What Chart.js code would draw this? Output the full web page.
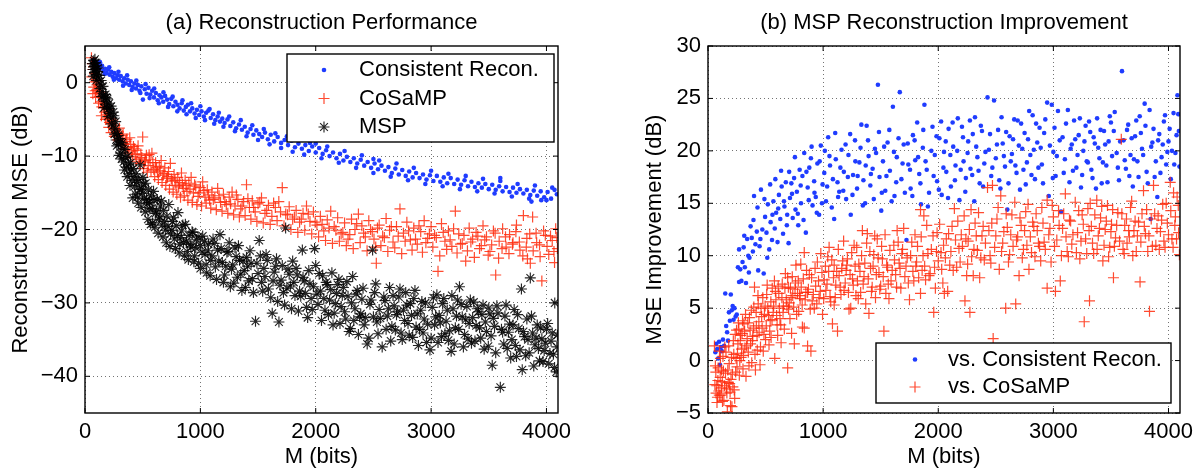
<!DOCTYPE html>
<html>
<head>
<meta charset="utf-8">
<script src="https://cdn.jsdelivr.net/npm/chart.js@4.4.1/dist/chart.umd.min.js"></script>
<style>
  body { margin: 0; background: #fff; width: 1196px; height: 468px; overflow: hidden; position: relative;
         font-family: "Liberation Sans", Arial, Helvetica, sans-serif; }
  .panel { position: absolute; top: 0; width: 598px; height: 468px; }
  .title { position: absolute; top: 9px; height: 26px; line-height: 26px; font-size: 22px; text-align: center; color: #000; white-space: nowrap; }
</style>
</head>
<body>
<div class="panel" style="left:0"><canvas id="left" width="598" height="468"></canvas></div>
<div class="panel" style="left:598px"><canvas id="right" width="598" height="468"></canvas></div>
<div class="title" style="left:85px;width:473px">(a) Reconstruction Performance</div>
<div class="title" style="left:708px;width:472px">(b) MSP Reconstruction Improvement</div>
<script>
// axis limits and ticks
const xRange = [0, 4100];
const xTicks = [0, 1000, 2000, 3000, 4000];
const leftYRange = [-45, 5];
const leftYTicks = [-40, -30, -20, -10, 0];
const rightYRange = [-5, 30];
const rightYTicks = [-5, 0, 5, 10, 15, 20, 25, 30];

const leftLabels = ['Consistent Recon.', 'CoSaMP', 'MSP'];
const rightLabels = ['vs. Consistent Recon.', 'vs. CoSaMP'];

// (a) reconstruction MSE in dB, [M, dB]
const leftConsistent = [[68,3.1],[76,2.5],[84,2.9],[92,2.2],[100,2.6],[110,1.9],[122,2.4],[134,2.0],[148,2.3],[160,1.6],[174,1.9],[188,1.3],[200,1.8],[214,1.1],[228,1.5],[240,0.8],[254,1.3],[268,0.6],[282,1.0],[296,0.4],[310,0.9],[326,0.2],[340,0.6],[354,-0.1],[370,0.4],[384,-0.3],[398,0.2],[412,-0.6],[428,-0.1],[442,-0.8],[458,-0.3],[472,-1.1],[488,-0.5],[502,-2.3],[518,-0.9],[534,-1.5],[550,-0.7],[566,-1.6],[582,-1.1],[598,-2.0],[614,-1.4],[630,-2.4],[646,-1.7],[662,-2.0],[678,-2.6],[694,-1.8],[712,-2.3],[730,-2.9],[748,-2.2],[766,-3.2],[784,-2.6],[802,-3.0],[820,-3.5],[838,-2.8],[856,-3.8],[874,-3.3],[892,-3.0],[910,-3.9],[930,-3.5],[950,-4.2],[970,-3.7],[990,-4.4],[1010,-3.9],[1030,-4.6],[1050,-4.1],[1070,-3.8],[1090,-4.8],[1110,-4.3],[1130,-5.1],[1150,-4.6],[1170,-5.3],[1190,-4.9],[1210,-5.5],[1235,-5.0],[1260,-5.9],[1285,-5.4],[1310,-6.2],[1335,-5.7],[1360,-6.4],[1385,-6.0],[1410,-6.8],[1435,-6.3],[1460,-7.1],[1485,-6.5],[1510,-7.0],[1535,-7.4],[1560,-6.8],[1585,-7.7],[1610,-7.1],[1640,-8.0],[1670,-7.4],[1700,-8.2],[1730,-7.8],[1760,-8.5],[1790,-7.9],[1820,-8.8],[1850,-8.3],[1880,-9.0],[1910,-8.5],[1940,-9.3],[1970,-8.7],[2000,-9.5],[2000,-8.3],[2030,-8.9],[2060,-9.7],[2090,-9.2],[2120,-10.0],[2150,-9.5],[2180,-10.3],[2210,-9.7],[2240,-10.6],[2270,-10.1],[2300,-10.8],[2330,-10.3],[2360,-11.0],[2390,-10.5],[2420,-11.3],[2450,-10.8],[2480,-11.6],[2500,-10.4],[2510,-11.0],[2540,-11.8],[2570,-11.3],[2600,-12.0],[2630,-11.5],[2660,-12.3],[2690,-11.7],[2720,-12.5],[2750,-11.9],[2780,-12.7],[2810,-12.1],[2840,-12.9],[2870,-12.3],[2900,-13.0],[2930,-12.5],[2960,-13.2],[2990,-12.6],[3020,-13.4],[3050,-12.7],[3080,-13.5],[3110,-12.9],[3140,-13.7],[3170,-13.0],[3200,-13.8],[3230,-13.2],[3260,-13.9],[3290,-13.3],[3320,-14.1],[3350,-13.5],[3380,-14.2],[3410,-13.7],[3440,-14.3],[3470,-13.8],[3500,-14.5],[3530,-13.9],[3560,-14.6],[3590,-14.1],[3600,-13.0],[3620,-14.8],[3650,-14.2],[3680,-14.9],[3710,-14.3],[3740,-15.0],[3770,-14.5],[3800,-15.1],[3830,-14.6],[3860,-15.3],[3870,-16.2],[3890,-14.7],[3920,-15.4],[3950,-14.8],[3955,-16.0],[3980,-15.6],[4010,-14.9],[4040,-15.8],[4070,-14.6],[4090,-15.2],
    [90,1.7],[130,2.8],[170,1.2],[210,2.1],[250,0.4],[290,1.5],[330,-0.4],[365,1.0],[405,-1.0],[445,0.3],[480,-1.4],[525,-0.2],[560,-2.1],[600,-0.8],[640,-2.8],[680,-1.3],[720,-3.3],[760,-1.9],[800,-3.9],[845,-2.4],[880,-4.3],[920,-2.8],[960,-4.8],[1000,-3.2],[1040,-5.1],[1080,-3.6],[1120,-5.6],[1160,-4.1],[1200,-6.0],[1250,-4.6],[1300,-6.6],[1350,-5.1],[1400,-7.3],[1450,-5.8],[1500,-7.8],[1550,-6.3],[1600,-8.4],[1650,-6.9],[1700,-8.9],[1750,-7.3],[1800,-9.4],[1850,-7.8],[1900,-9.8],[1950,-8.2],[2050,-10.3],[2100,-8.7],[2200,-10.9],[2250,-9.3],[2350,-11.6],[2400,-9.9],[2500,-12.3],[2550,-10.6],[2650,-12.8],[2700,-11.0],[2800,-13.3],[2850,-11.6],[2950,-13.8],[3000,-12.0],[3100,-14.1],[3150,-12.4],[3250,-14.5],[3300,-12.7],[3400,-14.8],[3450,-13.1],[3550,-15.1],[3600,-13.4],[3700,-15.5],[3750,-13.8],[3850,-15.8],[3900,-14.0],[4000,-16.0],[4050,-14.3]];

const leftCosamp = [[56,3.4],[64,2.6],[70,1.8],[76,-0.6],[82,1.2],[88,-1.1],[96,0.4],[104,-0.3],[112,-1.4],[124,-1.9],[136,-2.6],[146,-3.3],[158,-2.9],[170,-4.0],[184,-4.3],[196,-3.7],[206,-6.1],[218,-4.9],[232,-5.6],[246,-6.2],[260,-5.8],[276,-7.0],[290,-6.7],[306,-7.6],[322,-7.2],[338,-8.3],[354,-8.0],[370,-8.8],[388,-7.5],[404,-9.3],[420,-8.7],[436,-9.8],[452,-9.2],[468,-10.4],[484,-9.7],[500,-7.4],[516,-10.8],[532,-9.9],[548,-11.3],[564,-10.5],[580,-9.6],[596,-11.8],[612,-10.9],[628,-12.2],[644,-11.4],[660,-10.6],[676,-12.6],[692,-11.6],[708,-13.0],[724,-12.1],[740,-11.0],[756,-13.4],[772,-12.5],[788,-14.0],[804,-12.9],[820,-13.6],[836,-12.3],[852,-14.4],[868,-13.3],[884,-14.8],[900,-13.7],[920,-12.9],[940,-15.0],[960,-14.1],[980,-15.5],[1000,-14.3],[1020,-13.5],[1040,-15.6],[1060,-14.6],[1080,-16.0],[1100,-14.9],[1125,-15.7],[1150,-14.4],[1175,-16.3],[1200,-15.2],[1225,-16.6],[1250,-15.6],[1275,-14.9],[1300,-16.8],[1325,-15.9],[1350,-17.2],[1375,-16.2],[1400,-13.9],[1425,-17.0],[1450,-16.1],[1475,-17.6],[1500,-16.5],[1530,-15.7],[1560,-17.8],[1590,-16.7],[1620,-18.2],[1650,-17.0],[1680,-16.2],[1710,-14.3],[1740,-17.9],[1770,-16.9],[1800,-18.6],[1830,-17.4],[1860,-19.0],[1890,-17.8],[1920,-16.8],[1950,-18.9],[1980,-17.6],[2010,-19.4],[2040,-18.2],[2070,-20.2],[2100,-18.7],[2130,-17.5],[2160,-19.6],[2190,-18.4],[2220,-20.6],[2250,-19.1],[2280,-21.3],[2310,-18.6],[2340,-20.0],[2370,-17.9],[2400,-19.5],[2430,-21.0],[2460,-18.8],[2490,-20.3],[2520,-22.4],[2525,-24.6],[2550,-19.4],[2580,-20.9],[2610,-18.5],[2640,-20.1],[2670,-21.7],[2700,-19.6],[2730,-17.2],[2760,-20.5],[2790,-19.0],[2820,-21.4],[2850,-19.8],[2880,-22.0],[2910,-20.3],[2940,-18.8],[2970,-21.2],[3000,-19.6],[3030,-20.8],[3060,-25.7],[3090,-19.2],[3120,-21.6],[3150,-20.2],[3180,-22.3],[3210,-17.5],[3240,-20.6],[3270,-21.9],[3300,-24.3],[3330,-19.8],[3360,-21.3],[3390,-20.4],[3420,-22.6],[3450,-19.5],[3480,-21.0],[3510,-23.0],[3540,-20.2],[3560,-26.2],[3590,-21.6],[3620,-19.9],[3650,-22.4],[3680,-20.7],[3710,-21.8],[3740,-19.4],[3770,-22.8],[3800,-18.1],[3830,-21.2],[3835,-24.0],[3860,-24.6],[3880,-18.3],[3910,-20.5],[3940,-22.1],[3960,-27.0],[3990,-20.8],[4020,-23.4],[4050,-21.5],[4070,-24.5],[4080,-19.9],[4095,-22.6],
    [60,0.8],[68,-1.5],[74,2.2],[86,0.1],[92,-2.0],[100,-1.0],[118,-2.8],[130,-1.3],[142,-4.5],[164,-3.4],[178,-5.0],[190,-4.8],[212,-5.4],[226,-6.8],[240,-5.1],[254,-7.3],[268,-6.4],[284,-7.8],[298,-6.2],[314,-8.5],[330,-7.0],[346,-9.1],[362,-7.7],[380,-9.6],[396,-8.4],[412,-10.1],[428,-9.0],[444,-10.7],[460,-8.6],[476,-11.0],[492,-10.2],[508,-11.7],[524,-10.6],[540,-12.2],[556,-9.8],[572,-12.0],[588,-10.9],[604,-12.8],[620,-11.6],[636,-13.2],[652,-12.0],[668,-13.6],[684,-12.4],[700,-14.0],[716,-12.8],[732,-14.5],[748,-13.1],[764,-14.9],[780,-13.3],[796,-15.2],[812,-14.2],[828,-15.6],[844,-13.8],[860,-15.4],[876,-14.0],[892,-16.0],[910,-14.5],[930,-16.3],[950,-13.9],[970,-16.6],[990,-15.0],[1010,-16.8],[1030,-14.7],[1050,-16.4],[1070,-15.3],[1090,-17.1],[1112,-15.9],[1138,-17.3],[1162,-15.4],[1188,-17.5],[1212,-16.2],[1238,-17.8],[1262,-16.5],[1288,-18.0],[1312,-15.3],[1338,-18.3],[1362,-16.8],[1388,-18.1],[1412,-15.8],[1438,-18.6],[1462,-17.0],[1490,-18.9],[1515,-16.3],[1545,-19.1],[1575,-17.4],[1605,-19.3],[1635,-16.4],[1665,-18.8],[1695,-17.6],[1725,-19.5],[1755,-18.0],[1785,-20.0],[1815,-18.3],[1845,-20.4],[1875,-18.6],[1905,-20.1],[1935,-17.9],[1965,-20.6],[1995,-19.0],[2025,-21.0],[2055,-19.3],[2085,-21.5],[2115,-19.8],[2145,-21.9],[2175,-20.1],[2205,-21.6],[2235,-20.4],[2265,-22.2],[2295,-20.7],[2325,-22.6],[2355,-19.2],[2385,-21.8],[2415,-20.5],[2445,-22.9],[2475,-20.0],[2505,-21.3],[2535,-19.8],[2565,-22.2],[2595,-21.1],[2625,-23.0],[2655,-19.6],[2685,-22.5],[2715,-20.9],[2745,-23.3],[2775,-21.6],[2805,-20.2],[2835,-22.8],[2865,-21.3],[2895,-19.5],[2925,-23.1],[2955,-21.8],[2985,-20.6],[3015,-22.4],[3045,-21.1],[3075,-23.6],[3105,-20.4],[3135,-22.7],[3165,-21.4],[3195,-19.9],[3225,-23.2],[3255,-22.0],[3285,-20.8],[3315,-22.9],[3345,-21.7],[3375,-23.8],[3405,-20.9],[3435,-22.2],[3465,-21.4],[3495,-23.5],[3525,-22.1],[3555,-20.5],[3585,-23.9],[3615,-22.6],[3645,-21.0],[3675,-23.3],[3705,-22.0],[3735,-20.3],[3765,-21.7],[3795,-23.6],[3825,-22.4],[3855,-20.6],[3885,-22.9],[3915,-21.8],[3945,-23.7],[3975,-20.2],[4005,-22.3],[4035,-20.9],[4065,-23.0],[4090,-21.1]];

const leftMsp = [[64,2.6],[70,1.8],[76,3.0],[80,2.2],[84,1.4],[88,2.7],[92,1.9],[96,1.1],[102,2.3],[108,1.5],[116,0.6],[124,1.0],[132,-0.2],[140,0.3],[150,-1.2],[160,-1.8],[170,-2.5],[178,-1.6],[186,-3.0],[194,-2.2],[202,-3.6],[210,-2.8],[218,-4.2],[226,-3.2],[234,-4.8],[242,-5.9],[250,-4.5],[260,-6.3],[270,-7.8],[280,-6.9],[290,-8.4],[300,-7.6],[310,-9.6],[322,-8.2],[334,-10.8],[346,-9.1],[358,-11.5],[370,-10.0],[382,-12.4],[394,-10.9],[406,-13.3],[418,-11.7],[430,-14.1],[442,-12.4],[454,-15.6],[466,-13.2],[478,-11.2],[490,-14.5],[502,-12.9],[514,-15.8],[526,-13.7],[538,-16.5],[550,-14.6],[562,-17.2],[574,-15.4],[586,-19.1],[598,-16.0],[612,-17.8],[626,-15.9],[640,-18.6],[654,-16.8],[668,-19.4],[682,-17.4],[696,-20.1],[710,-18.2],[726,-16.6],[742,-20.6],[758,-18.9],[774,-21.3],[790,-19.5],[806,-17.7],[822,-22.0],[838,-20.2],[854,-21.8],[870,-19.3],[886,-23.0],[902,-20.8],[918,-22.4],[934,-20.4],[950,-23.6],[966,-21.4],[985,-24.6],[1000,-22.2],[1020,-20.9],[1040,-23.4],[1055,-25.9],[1070,-22.0],[1090,-24.2],[1110,-21.3],[1130,-25.1],[1150,-22.8],[1170,-20.7],[1190,-24.5],[1210,-26.2],[1230,-23.1],[1250,-21.8],[1270,-25.4],[1290,-27.3],[1310,-23.7],[1330,-22.2],[1350,-26.1],[1370,-24.3],[1390,-27.9],[1410,-25.0],[1430,-22.9],[1450,-26.7],[1478,-32.5],[1490,-24.6],[1510,-21.5],[1530,-27.2],[1550,-25.3],[1570,-23.4],[1590,-28.1],[1623,-31.4],[1640,-25.8],[1660,-24.0],[1681,-32.6],[1700,-26.9],[1720,-28.6],[1739,-19.8],[1760,-25.4],[1780,-27.7],[1800,-24.3],[1820,-29.0],[1840,-26.2],[1860,-28.4],[1884,-22.8],[1900,-27.0],[1920,-30.6],[1940,-25.6],[1960,-29.4],[1980,-27.8],[1990,-22.6],[2000,-24.9],[2020,-30.2],[2040,-28.4],[2060,-26.3],[2080,-31.0],[2100,-27.5],[2120,-29.6],[2140,-25.9],[2160,-31.4],[2180,-28.7],[2200,-26.8],[2220,-30.5],[2240,-27.9],[2260,-32.2],[2280,-29.1],[2300,-33.5],[2320,-26.4],[2340,-30.8],[2360,-28.3],[2380,-31.9],[2400,-29.5],[2420,-33.0],[2446,-35.6],[2470,-30.2],[2493,-22.8],[2510,-28.6],[2530,-32.6],[2550,-30.9],[2576,-36.0],[2600,-29.7],[2620,-31.8],[2640,-27.9],[2660,-33.2],[2680,-30.4],[2700,-31.6],[2720,-29.2],[2740,-34.1],[2760,-31.0],[2780,-28.6],[2800,-32.8],[2820,-30.1],[2840,-34.7],[2860,-28.3],[2880,-31.5],[2900,-33.6],[2920,-29.8],[2940,-32.2],[2960,-35.4],[2990,-36.4],[3010,-30.6],[3030,-33.0],[3050,-28.9],[3070,-31.7],[3090,-34.6],[3110,-29.4],[3130,-32.5],[3150,-35.1],[3174,-36.6],[3190,-30.8],[3210,-33.4],[3230,-29.6],[3246,-27.8],[3270,-31.9],[3290,-34.3],[3310,-30.5],[3330,-32.8],[3350,-35.5],[3370,-29.9],[3390,-33.1],[3410,-31.2],[3430,-34.8],[3450,-30.3],[3470,-32.6],[3496,-35.9],[3510,-31.5],[3530,-38.5],[3550,-33.2],[3570,-30.4],[3600,-41.5],[3620,-34.0],[3640,-31.8],[3660,-36.2],[3680,-32.9],[3700,-35.0],[3720,-30.9],[3740,-37.3],[3760,-33.5],[3783,-28.1],[3790,-39.1],[3810,-34.6],[3830,-32.2],[3850,-36.8],[3860,-26.6],[3880,-34.1],[3900,-35.7],[3920,-33.0],[3940,-37.9],[3960,-34.9],[3980,-36.5],[4000,-33.6],[4020,-38.3],[4040,-35.2],[4060,-37.0],[4072,-30.0],[4085,-39.4],[4095,-34.4],
    [72,0.9],[86,3.2],[98,0.3],[112,2.0],[128,-0.8],[144,-1.9],[156,-0.5],[166,-3.4],[182,-2.0],[198,-4.6],[214,-3.5],[230,-5.6],[246,-4.0],[256,-7.0],[266,-5.3],[276,-8.6],[286,-7.2],[296,-9.9],[306,-8.1],[318,-10.4],[330,-9.0],[342,-11.9],[354,-10.2],[366,-12.8],[378,-11.1],[390,-14.0],[402,-11.9],[414,-15.7],[426,-12.8],[438,-15.2],[450,-13.6],[462,-16.4],[474,-14.5],[486,-17.0],[498,-15.1],[510,-13.8],[522,-17.6],[534,-15.9],[546,-18.6],[558,-16.3],[570,-19.3],[582,-17.1],[594,-14.8],[606,-19.7],[620,-17.5],[634,-20.5],[648,-18.3],[662,-16.1],[676,-21.0],[690,-18.9],[704,-21.8],[720,-19.6],[736,-22.3],[752,-20.1],[768,-18.4],[784,-22.6],[800,-20.8],[816,-23.2],[832,-21.1],[848,-19.4],[864,-23.6],[880,-21.6],[896,-24.1],[912,-22.0],[928,-20.3],[944,-24.4],[960,-22.5],[980,-21.0],[1000,-25.3],[1015,-23.1],[1035,-21.6],[1050,-24.8],[1065,-22.9],[1085,-26.3],[1100,-23.6],[1120,-21.9],[1140,-26.8],[1160,-24.3],[1180,-22.6],[1200,-27.2],[1220,-25.0],[1240,-23.0],[1260,-27.8],[1280,-24.8],[1300,-22.5],[1320,-26.5],[1340,-24.2],[1360,-28.3],[1380,-25.6],[1400,-23.8],[1420,-27.0],[1440,-24.6],[1460,-28.6],[1500,-26.0],[1520,-23.6],[1540,-28.4],[1560,-26.4],[1580,-24.2],[1610,-29.3],[1630,-27.0],[1650,-25.0],[1670,-29.8],[1690,-27.6],[1710,-24.9],[1730,-30.3],[1750,-28.0],[1770,-26.1],[1790,-30.8],[1810,-27.2],[1830,-25.3],[1850,-31.1],[1870,-29.1],[1890,-26.5],[1910,-28.7],[1930,-32.0],[1950,-27.4],[1970,-30.9],[2010,-28.8],[2030,-26.0],[2050,-32.4],[2070,-29.4],[2090,-27.2],[2110,-31.6],[2130,-28.2],[2150,-33.0],[2170,-30.1],[2190,-27.5],[2210,-32.8],[2230,-29.0],[2250,-31.2],[2270,-27.1],[2290,-33.9],[2310,-30.0],[2330,-32.4],[2350,-28.8],[2370,-34.3],[2390,-31.5],[2410,-28.0],[2430,-32.0],[2460,-34.8],[2480,-29.6],[2500,-31.9],[2520,-27.4],[2540,-34.2],[2560,-32.1],[2590,-29.2],[2610,-33.6],[2630,-30.8],[2650,-35.2],[2670,-29.0],[2690,-33.7],[2710,-31.2],[2730,-28.1],[2750,-35.0],[2770,-32.4],[2790,-30.3],[2810,-34.4],[2830,-31.7],[2850,-29.4],[2870,-33.3],[2890,-35.8],[2910,-31.0],[2930,-34.1],[2950,-30.0],[2970,-32.9],[3000,-34.8],[3020,-29.3],[3040,-31.9],[3060,-35.4],[3080,-32.7],[3100,-30.1],[3120,-34.2],[3140,-31.0],[3160,-33.8],[3180,-29.0],[3200,-35.6],[3220,-31.8],[3240,-33.6],[3260,-30.2],[3280,-36.0],[3300,-32.3],[3320,-34.9],[3340,-29.6],[3360,-32.0],[3380,-35.2],[3400,-30.8],[3420,-33.4],[3440,-31.6],[3460,-36.3],[3480,-33.9],[3500,-30.7],[3520,-34.5],[3540,-32.1],[3560,-36.8],[3580,-31.4],[3610,-33.6],[3630,-35.6],[3650,-30.3],[3670,-34.0],[3690,-37.5],[3710,-33.0],[3730,-35.8],[3750,-31.6],[3770,-36.4],[3800,-33.9],[3820,-37.2],[3840,-35.0],[3870,-31.8],[3890,-38.6],[3910,-34.8],[3930,-36.2],[3950,-33.4],[3970,-38.0],[3990,-35.5],[4010,-32.8],[4030,-36.9],[4050,-34.1],[4070,-38.8],[4090,-36.0]];

// (b) MSP improvement in dB, [M, dB]
const rightVsConsistent = [[64,0.8],[72,1.6],[80,1.1],[88,0.2],[96,1.8],[104,-0.4],[112,1.3],[120,0.9],[130,2.0],[140,1.4],[150,6.4],[158,3.3],[166,2.7],[174,1.9],[182,4.6],[190,3.8],[198,6.3],[206,4.8],[214,5.2],[222,3.9],[230,5.0],[240,4.2],[250,4.4],[260,8.9],[270,7.5],[280,8.7],[290,7.6],[300,9.4],[310,10.8],[320,8.9],[330,7.4],[340,11.6],[350,10.0],[360,9.8],[370,12.8],[380,11.7],[390,10.4],[400,15.7],[412,11.1],[424,12.3],[436,8.6],[448,10.9],[460,16.3],[472,12.5],[484,8.3],[496,13.7],[508,12.2],[520,14.9],[532,10.6],[544,13.2],[556,11.5],[568,15.2],[580,12.6],[592,14.1],[604,11.3],[616,15.8],[628,13.5],[640,16.6],[652,12.1],[664,14.7],[676,17.0],[688,13.9],[700,11.2],[712,15.5],[724,16.9],[736,13.6],[748,17.4],[760,14.4],[772,16.1],[784,12.9],[796,18.2],[808,15.0],[820,17.6],[836,19.8],[850,12.2],[866,16.5],[880,18.4],[894,19.3],[908,14.8],[922,17.1],[936,15.6],[950,18.8],[965,13.9],[980,20.5],[995,16.8],[1010,17.9],[1025,15.2],[1044,21.3],[1060,18.6],[1075,14.6],[1096,13.5],[1110,19.2],[1125,17.0],[1140,16.1],[1160,20.1],[1180,18.0],[1200,15.4],[1220,19.6],[1240,13.9],[1260,17.7],[1277,21.0],[1295,16.4],[1315,18.9],[1332,22.5],[1350,17.2],[1365,15.0],[1378,22.4],[1395,19.5],[1410,16.7],[1430,18.3],[1450,20.2],[1476,26.3],[1490,17.5],[1505,14.3],[1520,19.0],[1540,16.2],[1560,20.8],[1580,18.1],[1606,24.2],[1620,15.7],[1640,19.4],[1666,25.6],[1680,17.3],[1700,20.6],[1724,11.5],[1740,18.7],[1760,16.4],[1780,21.5],[1800,19.1],[1817,22.7],[1835,17.8],[1850,14.9],[1866,20.3],[1880,24.4],[1900,18.2],[1920,16.0],[1950,22.3],[1970,19.6],[1990,17.1],[2010,21.2],[2030,15.8],[2050,19.9],[2070,18.0],[2090,22.1],[2110,16.6],[2130,20.4],[2150,18.6],[2170,23.1],[2184,15.3],[2206,22.3],[2220,19.0],[2240,17.4],[2260,20.9],[2280,18.3],[2300,21.6],[2313,15.2],[2319,23.2],[2340,19.4],[2360,16.9],[2380,21.9],[2400,18.8],[2428,25.1],[2440,20.1],[2460,17.6],[2485,24.8],[2500,19.3],[2520,22.0],[2540,16.4],[2560,20.7],[2580,18.5],[2600,14.4],[2620,21.4],[2640,19.7],[2660,23.0],[2680,17.9],[2700,20.5],[2720,22.6],[2740,18.2],[2760,16.8],[2780,21.1],[2800,19.6],[2820,23.4],[2840,17.3],[2860,20.8],[2880,22.2],[2900,18.7],[2920,21.7],[2946,24.6],[2960,15.7],[2986,24.4],[3000,19.9],[3020,17.6],[3040,23.8],[3067,14.2],[3080,21.3],[3100,19.2],[3126,23.9],[3140,17.0],[3160,20.6],[3180,22.9],[3200,18.4],[3220,21.5],[3240,16.5],[3260,20.0],[3280,22.4],[3300,18.9],[3320,21.8],[3340,17.4],[3360,20.7],[3380,23.1],[3400,19.3],[3420,16.9],[3440,21.9],[3460,18.6],[3480,20.9],[3500,22.7],[3533,23.7],[3550,19.8],[3570,17.2],[3596,27.6],[3610,21.0],[3630,18.3],[3650,22.5],[3670,19.6],[3690,16.6],[3710,21.4],[3730,19.0],[3750,23.3],[3770,20.2],[3793,24.5],[3810,18.0],[3836,23.9],[3845,13.5],[3860,20.8],[3880,17.5],[3903,15.6],[3920,21.6],[3940,19.4],[3960,22.8],[3980,18.7],[4000,20.9],[4020,17.3],[4044,23.6],[4060,19.8],[4078,25.3],[4090,21.9],[4095,18.5],
    [270,10.6],[315,11.9],[355,8.4],[395,13.4],[430,14.6],[455,11.6],[490,15.4],[515,9.8],[540,16.8],[560,13.9],[585,17.3],[610,14.5],[635,18.1],[660,15.2],[685,12.9],[705,18.0],[730,15.9],[755,19.4],[780,14.0],[805,16.7],[830,13.4],[855,18.0],[875,15.3],[900,20.4],[925,16.0],[945,14.1],[970,19.0],[990,15.0],[1015,20.0],[1035,16.6],[1055,19.5],[1085,17.3],[1105,21.7],[1130,15.6],[1150,18.4],[1175,16.2],[1195,20.6],[1215,17.5],[1235,21.6],[1255,15.8],[1280,19.0],[1300,17.6],[1325,20.3],[1345,14.8],[1370,18.6],[1390,21.0],[1415,17.8],[1440,15.4],[1460,19.8],[1485,21.8],[1510,16.0],[1530,20.4],[1550,17.6],[1575,22.0],[1595,15.2],[1615,19.9],[1635,17.0],[1655,21.2],[1690,18.8],[1710,16.0],[1735,20.7],[1755,18.2],[1775,15.7],[1795,21.0],[1825,19.4],[1845,16.9],[1870,22.0],[1890,19.0],[1910,14.7],[1940,20.0],[1960,17.6],[1985,21.4],[2005,16.3],[2025,22.8],[2045,18.4],[2065,20.9],[2085,15.5],[2105,19.6],[2125,22.7],[2145,17.2],[2165,20.0],[2195,18.2],[2215,21.3],[2235,16.1],[2255,19.8],[2275,22.9],[2295,17.7],[2330,20.4],[2350,18.1],[2370,22.4],[2390,16.6],[2410,19.9],[2450,21.6],[2470,18.4],[2510,20.6],[2530,17.2],[2550,23.2],[2570,19.5],[2590,21.8],[2610,16.9],[2630,19.0],[2650,21.1],[2670,18.6],[2690,22.9],[2710,16.3],[2730,20.2],[2750,21.7],[2770,18.9],[2790,23.8],[2810,17.7],[2830,20.1],[2850,22.6],[2870,18.4],[2890,20.3],[2910,16.9],[2930,23.0],[2970,20.5],[2995,17.4],[3010,22.2],[3030,19.5],[3055,21.0],[3090,17.9],[3110,22.6],[3150,20.2],[3170,18.1],[3190,21.1],[3210,19.6],[3230,23.1],[3250,17.7],[3270,20.9],[3290,19.0],[3310,22.8],[3330,18.2],[3350,21.3],[3370,16.4],[3390,20.3],[3410,22.0],[3430,18.9],[3450,20.6],[3470,17.0],[3490,23.3],[3510,19.5],[3525,21.9],[3560,18.4],[3580,20.9],[3620,19.1],[3640,22.0],[3660,17.6],[3680,21.2],[3700,19.2],[3720,22.9],[3740,17.5],[3760,21.7],[3780,19.6],[3800,22.4],[3820,16.9],[3850,20.4],[3870,22.1],[3890,19.0],[3910,21.0],[3930,17.9],[3950,20.6],[3970,23.4],[3990,19.9],[4010,22.1],[4030,20.0],[4050,18.7],[4070,21.5],[4085,23.5]];

const rightVsCosamp = [[56,1.4],[64,-0.5],[70,-3.1],[76,-2.4],[82,-3.5],[88,-0.7],[94,-2.9],[100,0.9],[106,-1.6],[112,-3.3],[118,-0.9],[124,-2.0],[130,0.4],[138,-3.8],[146,1.3],[152,-1.2],[160,-2.7],[168,-4.9],[176,-2.1],[184,-0.3],[192,-3.0],[200,-1.8],[208,-4.4],[216,-2.5],[224,0.6],[232,-3.6],[240,-1.1],[248,2.9],[256,0.7],[264,3.6],[272,-1.4],[280,1.9],[288,0.3],[296,2.6],[304,-0.8],[312,3.5],[320,1.2],[330,-1.5],[340,2.1],[350,0.8],[360,4.1],[370,1.6],[380,-0.2],[389,2.3],[398,5.1],[404,7.0],[412,-0.9],[420,3.3],[428,1.0],[436,5.4],[444,2.7],[452,-0.4],[461,5.0],[470,3.1],[480,0.9],[490,4.4],[500,2.0],[510,6.3],[519,5.0],[530,1.5],[540,3.8],[548,2.2],[558,6.9],[566,4.6],[577,7.6],[580,0.2],[590,5.8],[600,3.4],[605,2.4],[615,6.4],[625,4.0],[635,1.7],[645,7.3],[655,5.2],[663,3.0],[672,8.3],[680,5.8],[692,7.9],[692,-0.7],[700,4.9],[706,5.5],[716,6.9],[726,2.6],[736,6.2],[750,1.6],[760,7.4],[764,9.1],[778,6.4],[788,4.7],[800,5.9],[810,7.0],[820,3.2],[836,10.3],[836,3.1],[850,6.5],[865,1.4],[865,6.5],[880,8.2],[894,0.9],[905,5.7],[923,5.0],[935,7.1],[950,9.4],[965,6.0],[980,10.2],[995,4.4],[1010,7.7],[1024,6.7],[1040,9.9],[1052,10.8],[1066,5.6],[1081,3.5],[1096,9.1],[1096,5.3],[1110,7.2],[1125,2.8],[1139,8.1],[1155,6.3],[1170,9.5],[1182,6.7],[1200,8.6],[1211,9.7],[1225,4.9],[1240,5.0],[1255,7.8],[1269,11.0],[1285,6.2],[1298,7.6],[1310,9.2],[1326,6.5],[1341,12.4],[1355,8.0],[1370,5.4],[1384,12.1],[1398,4.5],[1412,8.8],[1426,7.0],[1440,10.1],[1455,6.0],[1470,11.6],[1485,8.4],[1500,7.1],[1515,9.7],[1528,2.8],[1545,6.4],[1560,8.9],[1572,5.9],[1590,7.6],[1614,11.0],[1630,8.2],[1643,12.4],[1660,9.3],[1675,6.9],[1690,10.6],[1710,8.0],[1730,9.8],[1750,5.8],[1770,11.3],[1788,7.6],[1805,9.0],[1820,10.9],[1846,6.4],[1846,14.4],[1860,8.6],[1875,13.8],[1890,7.7],[1910,10.2],[1930,8.3],[1961,4.6],[1975,6.9],[1990,12.2],[2000,9.5],[2024,10.3],[2040,7.4],[2053,6.4],[2070,11.6],[2082,6.6],[2100,9.1],[2120,12.8],[2140,14.5],[2160,8.9],[2180,10.7],[2200,12.0],[2232,5.7],[2247,8.1],[2260,11.4],[2275,4.6],[2290,9.9],[2304,8.1],[2320,13.1],[2340,10.5],[2360,7.9],[2380,11.9],[2400,9.6],[2428,16.5],[2440,12.4],[2457,9.3],[2471,16.7],[2477,2.1],[2490,10.8],[2510,13.5],[2530,8.7],[2543,15.7],[2560,11.2],[2586,5.0],[2600,12.7],[2620,10.1],[2640,13.9],[2673,5.4],[2680,11.5],[2702,8.1],[2720,12.9],[2740,10.6],[2760,14.2],[2788,8.7],[2800,11.8],[2820,13.2],[2840,9.9],[2860,12.4],[2880,10.9],[2900,14.6],[2920,11.3],[2946,15.3],[2946,6.9],[2960,12.0],[2980,9.4],[3000,13.7],[3018,6.6],[3030,11.5],[3045,14.3],[3060,7.6],[3080,12.6],[3104,15.9],[3120,10.4],[3140,13.4],[3160,11.1],[3190,15.1],[3210,12.2],[3230,9.7],[3250,13.9],[3268,3.7],[3280,11.6],[3300,14.5],[3314,5.7],[3330,12.8],[3350,10.2],[3377,15.3],[3390,11.9],[3410,13.6],[3430,9.5],[3450,12.5],[3470,14.8],[3490,10.8],[3505,13.0],[3522,7.9],[3540,11.7],[3560,14.1],[3590,21.1],[3605,10.6],[3620,12.9],[3640,11.2],[3654,12.4],[3670,14.6],[3690,10.0],[3710,13.3],[3730,11.9],[3753,7.5],[3770,14.0],[3783,16.2],[3800,12.1],[3820,10.4],[3835,4.7],[3850,13.5],[3870,16.7],[3890,11.0],[3910,13.8],[3930,12.3],[3950,14.9],[3970,10.8],[3990,13.1],[4015,17.0],[4030,11.6],[4044,16.0],[4060,13.7],[4075,15.6],[4088,12.2],[4095,10.1],
    [60,-2.3],[68,-1.1],[78,-4.0],[86,-1.9],[98,-3.3],[108,0.2],[116,-2.6],[126,-3.9],[134,-1.0],[144,-2.4],[156,0.8],[164,-3.1],[172,-0.9],[180,1.4],[188,-2.2],[196,-4.3],[204,0.3],[212,-1.3],[220,1.9],[228,-2.8],[236,2.5],[244,0.2],[252,-0.6],[260,1.6],[268,3.0],[276,0.0],[284,2.4],[292,1.1],[300,3.8],[308,0.5],[318,2.8],[326,4.4],[336,1.4],[346,3.6],[356,-0.5],[366,2.9],[376,4.8],[386,1.9],[396,3.1],[408,0.6],[418,4.6],[426,2.4],[434,6.2],[442,3.7],[456,1.3],[466,4.2],[476,6.0],[486,2.5],[496,5.2],[506,3.3],[514,7.2],[526,4.3],[536,2.8],[546,5.6],[556,3.9],[570,5.2],[586,6.6],[596,4.3],[610,7.1],[620,5.0],[632,3.4],[642,6.0],[652,4.6],[668,6.9],[686,5.2],[698,7.0],[712,4.0],[722,6.0],[732,8.0],[744,5.1],[756,6.8],[770,4.4],[784,7.6],[796,6.2],[806,9.2],[818,5.3],[828,7.8],[844,5.8],[856,8.6],[872,6.8],[888,4.9],[900,7.9],[915,6.3],[930,8.8],[945,5.4],[960,7.6],[975,6.6],[990,8.4],[1005,5.9],[1020,9.0],[1034,7.3],[1048,8.5],[1060,6.1],[1075,9.6],[1090,7.9],[1105,6.0],[1118,8.5],[1132,10.6],[1148,7.0],[1162,8.8],[1178,11.4],[1192,7.4],[1206,9.1],[1220,6.5],[1234,8.2],[1248,10.3],[1262,7.2],[1278,9.0],[1292,10.8],[1305,5.9],[1320,8.5],[1334,10.0],[1348,7.3],[1362,9.3],[1378,11.2],[1392,7.8],[1406,10.4],[1420,6.6],[1434,9.0],[1448,11.9],[1462,8.2],[1478,9.8],[1492,6.8],[1508,10.9],[1522,8.0],[1538,12.0],[1552,9.1],[1566,7.3],[1580,10.5],[1600,8.6],[1620,9.6],[1638,7.0],[1652,11.3],[1668,8.8],[1684,10.2],[1700,12.6],[1720,9.0],[1740,7.4],[1760,10.0],[1780,8.5],[1798,12.0],[1812,9.4],[1830,7.9],[1852,11.8],[1868,10.0],[1882,9.0],[1900,12.9],[1920,8.1],[1940,10.6],[1955,11.9],[1968,8.9],[1985,10.4],[2012,13.0],[2030,8.7],[2046,11.0],[2062,9.8],[2090,12.1],[2110,10.4],[2130,8.6],[2150,11.5],[2170,13.3],[2190,9.4],[2210,10.9],[2225,13.8],[2240,11.6],[2255,9.2],[2270,12.5],[2285,14.4],[2310,10.6],[2330,11.9],[2350,14.1],[2370,9.8],[2390,12.8],[2410,11.2],[2450,10.0],[2465,13.1],[2500,11.9],[2520,14.6],[2550,10.4],[2570,12.3],[2590,14.0],[2610,9.4],[2630,12.0],[2650,10.9],[2665,15.1],[2690,11.8],[2710,13.6],[2730,9.8],[2750,12.4],[2770,11.0],[2780,14.9],[2810,10.3],[2830,12.8],[2850,14.0],[2870,11.2],[2890,9.5],[2910,13.1],[2930,10.6],[2970,12.6],[2990,14.8],[3010,10.9],[3050,12.9],[3070,10.0],[3090,14.0],[3110,11.8],[3130,9.9],[3150,13.3],[3170,12.0],[3200,10.3],[3220,14.3],[3240,11.4],[3260,13.0],[3290,10.2],[3310,12.4],[3320,15.0],[3340,11.2],[3360,13.9],[3380,10.6],[3400,12.6],[3420,14.7],[3440,11.0],[3460,13.3],[3480,9.9],[3500,12.3],[3515,14.4],[3530,10.9],[3550,12.9],[3575,11.4],[3595,14.0],[3615,10.2],[3635,13.5],[3660,11.8],[3680,15.2],[3700,12.4],[3720,10.4],[3740,13.2],[3760,11.3],[3790,12.8],[3810,14.4],[3830,11.9],[3860,10.9],[3880,14.0],[3900,12.6],[3920,10.6],[3940,13.4],[3960,11.4],[3980,15.0],[4000,12.0],[4020,14.3],[4040,10.8],[4055,12.9],[4070,11.6],[4085,14.8]];

const FONT = '"Liberation Sans", Arial, Helvetica, sans-serif';
const FONT_SIZE = 22;
const BLUE = '#1f3cff';
const RED = 'rgba(255, 42, 12, 0.85)';
const BLACK = 'rgba(0, 0, 0, 0.85)';

Chart.defaults.font.family = FONT;
Chart.defaults.font.size = FONT_SIZE;
Chart.defaults.color = '#000';

const toXY = pts => pts.map(([x, y]) => ({x, y}));
const fmt = v => (v < 0 ? '\u2212' + Math.abs(v) : String(v));

// box round the axes, with short ticks pointing inward
const matlabFrame = {
    id: 'matlabFrame',
    afterDatasetsDraw(chart) {
        const {ctx, chartArea: a, scales} = chart;
        ctx.save();
        ctx.strokeStyle = '#000';
        ctx.lineWidth = 1;
        ctx.beginPath();
        scales.x.ticks.forEach(t => {
            const px = scales.x.getPixelForValue(t.value);
            ctx.moveTo(px, a.bottom); ctx.lineTo(px, a.bottom - 5);
            ctx.moveTo(px, a.top); ctx.lineTo(px, a.top + 5);
        });
        scales.y.ticks.forEach(t => {
            const py = scales.y.getPixelForValue(t.value);
            ctx.moveTo(a.left, py); ctx.lineTo(a.left + 5, py);
            ctx.moveTo(a.right, py); ctx.lineTo(a.right - 5, py);
        });
        ctx.stroke();
        ctx.lineWidth = 1.4;
        ctx.strokeRect(a.left, a.top, a.right - a.left, a.bottom - a.top);
        ctx.restore();
    }
};

// legend drawn as a framed box inside the axes
const boxLegend = {
    id: 'boxLegend',
    afterDatasetsDraw(chart, args, opts) {
        const {ctx} = chart;
        const [x0, y0, x1, y1] = opts.box;
        ctx.save();
        ctx.fillStyle = '#fff';
        ctx.fillRect(x0, y0, x1 - x0, y1 - y0);
        ctx.strokeStyle = '#000';
        ctx.lineWidth = 1.4;
        ctx.strokeRect(x0, y0, x1 - x0, y1 - y0);
        opts.rows.forEach((rowY, i) => {
            const ds = chart.data.datasets[i];
            ctx.fillStyle = ds.backgroundColor;
            ctx.strokeStyle = ds.borderColor;
            ctx.lineWidth = ds.borderWidth;
            Chart.helpers.drawPoint(ctx, {
                pointStyle: ds.pointStyle, radius: ds.pointRadius,
                borderWidth: ds.borderWidth, rotation: 0
            }, opts.markerX, rowY);
            ctx.fillStyle = '#000';
            ctx.font = FONT_SIZE + 'px ' + FONT;
            ctx.textAlign = 'left';
            ctx.textBaseline = 'middle';
            ctx.fillText(ds.label, opts.textX, rowY);
        });
        ctx.restore();
    }
};

const dotSet = (label, pts, order) => ({
    label, data: toXY(pts), order,
    pointStyle: 'circle', pointRadius: 2.3, backgroundColor: BLUE, borderColor: BLUE, borderWidth: 0
});
const plusSet = (label, pts, order) => ({
    label, data: toXY(pts), order,
    pointStyle: 'cross', pointRadius: 5.5, backgroundColor: RED, borderColor: RED, borderWidth: 1.2
});
const starSet = (label, pts, order) => ({
    label, data: toXY(pts), order,
    pointStyle: 'star', pointRadius: 5.5, backgroundColor: BLACK, borderColor: BLACK, borderWidth: 1.15
});

function axes(yRange, yTicks, yTitle, yWidth, yTitlePad) {
    const grid = {color: 'rgba(0,0,0,0.55)', lineWidth: 1, drawTicks: false};
    return {
        x: {
            type: 'linear', min: xRange[0], max: xRange[1],
            afterBuildTicks: s => { s.ticks = xTicks.map(v => ({value: v})); },
            afterFit: s => { s.height = 55; s.paddingLeft = 0; s.paddingRight = 0; },
            ticks: {padding: 6, maxRotation: 0, callback: fmt},
            grid,
            border: {display: false, dash: [1, 3]},
            title: {display: true, text: 'M (bits)', padding: {top: 0, bottom: -2}}
        },
        y: {
            type: 'linear', min: yRange[0], max: yRange[1],
            afterBuildTicks: s => { s.ticks = yTicks.map(v => ({value: v})); },
            afterFit: s => { s.width = yWidth; s.paddingTop = 0; s.paddingBottom = 0; },
            ticks: {padding: 7, callback: fmt},
            grid,
            border: {display: false, dash: [1, 3]},
            title: {display: true, text: yTitle, padding: {top: yTitlePad, bottom: 0}}
        }
    };
}

new Chart(document.getElementById('left'), {
    type: 'scatter',
    data: {
        datasets: [
            dotSet(leftLabels[0], leftConsistent, 2),
            plusSet(leftLabels[1], leftCosamp, 1),
            starSet(leftLabels[2], leftMsp, 0)
        ]
    },
    options: {
        responsive: false,
        devicePixelRatio: 1,
        animation: false,
        layout: {padding: {top: 46, right: 40, bottom: 0, left: 0}},
        scales: axes(leftYRange, leftYTicks, 'Reconstruction MSE (dB)', 85, 8),
        plugins: {
            legend: {display: false},
            tooltip: {enabled: false},
            boxLegend: {box: [287, 54, 554, 142], rows: [70, 98.5, 127], markerX: 324, textX: 359}
        }
    },
    plugins: [matlabFrame, boxLegend]
});

new Chart(document.getElementById('right'), {
    type: 'scatter',
    data: {
        datasets: [
            dotSet(rightLabels[0], rightVsConsistent, 1),
            plusSet(rightLabels[1], rightVsCosamp, 0)
        ]
    },
    options: {
        responsive: false,
        devicePixelRatio: 1,
        animation: false,
        layout: {padding: {top: 46, right: 16, bottom: 0, left: 0}},
        scales: axes(rightYRange, rightYTicks, 'MSE Improvement (dB)', 110, 44),
        plugins: {
            legend: {display: false},
            tooltip: {enabled: false},
            boxLegend: {box: [278, 343, 573, 403], rows: [359.5, 387], markerX: 317, textX: 350}
        }
    },
    plugins: [matlabFrame, boxLegend]
});
</script>
</body>
</html>
